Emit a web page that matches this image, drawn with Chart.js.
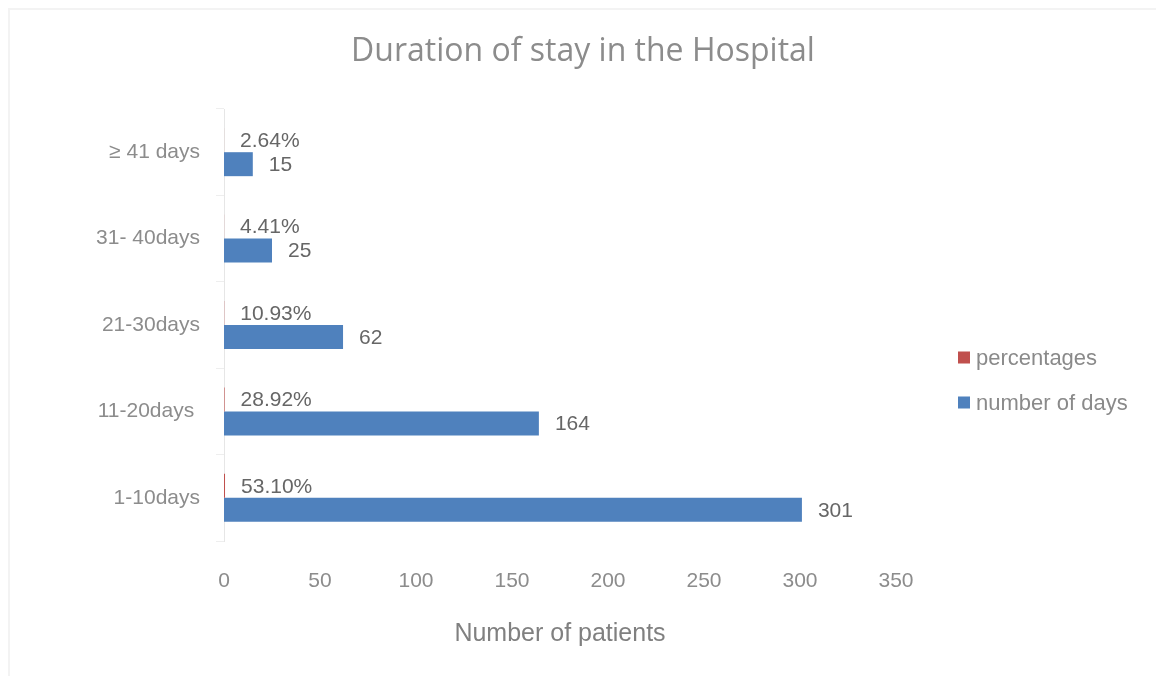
<!DOCTYPE html>
<html>
<head>
<meta charset="utf-8">
<script src="https://cdn.jsdelivr.net/npm/chart.js@4.4.1/dist/chart.umd.min.js"></script>
<style>
    html, body { margin: 0; padding: 0; background: #ffffff; overflow: hidden; }
    #frame {
        position: absolute; left: 8px; top: 8px; width: 1200px; height: 720px;
        border: 2px solid #f3f3f3; box-sizing: border-box;
    }
    #chart { position: absolute; left: 0; top: 0; }
</style>
</head>
<body>
<div id="frame"></div>
<canvas id="chart" width="1156" height="676"></canvas>
<script>
const categories = ['≥ 41 days', '31- 40days', '21-30days', '11-20days ', '1-10days'];
const percentages = [0.0264, 0.0441, 0.1093, 0.2892, 0.5310];
const numberOfDays = [15, 25, 62, 164, 301];
const xTicks = [0, 50, 100, 150, 200, 250, 300, 350];

const sans = "'Liberation Sans', Arial, sans-serif";

// labels next to the bar ends, like the excel data labels
const barLabels = {
    id: 'barLabels',
    afterDatasetsDraw(chart) {
        const ctx = chart.ctx;
        ctx.save();
        ctx.font = '21px ' + sans;
        ctx.fillStyle = '#666666';
        ctx.textAlign = 'left';
        ctx.textBaseline = 'middle';
        chart.data.datasets.forEach((ds, i) => {
            const meta = chart.getDatasetMeta(i);
            meta.data.forEach((bar, j) => {
                const v = ds.data[j];
                const txt = ds.isPercent ? (v * 100).toFixed(2) + '%' : String(v);
                ctx.fillText(txt, bar.x + 16, bar.y + 1);
            });
        });
        ctx.restore();
    }
};

// legend on the right side
const sideLegend = {
    id: 'sideLegend',
    afterDraw(chart) {
        const ctx = chart.ctx;
        ctx.save();
        ctx.font = '22px ' + sans;
        ctx.textBaseline = 'middle';
        chart.data.datasets.forEach((ds, i) => {
            const y = 357.5 + i * 45;
            ctx.fillStyle = ds.backgroundColor;
            ctx.fillRect(958, y - 6, 12, 12);
            ctx.fillStyle = '#8a8a8a';
            ctx.fillText(ds.label, 976, y + 1);
        });
        ctx.restore();
    }
};

const ctx = document.getElementById('chart').getContext('2d');
new Chart(ctx, {
    type: 'bar',
    data: {
        labels: categories,
        datasets: [
            {
                label: 'percentages',
                data: percentages,
                isPercent: true,
                backgroundColor: '#C0504D',
                barPercentage: 1,
                categoryPercentage: 0.555
            },
            {
                label: 'number of days',
                data: numberOfDays,
                backgroundColor: '#4F81BD',
                barPercentage: 1,
                categoryPercentage: 0.555
            }
        ]
    },
    options: {
        indexAxis: 'y',
        responsive: false,
        animation: false,
        devicePixelRatio: 1,
        layout: { padding: { left: 10, top: 0, right: 0, bottom: 27 } },
        plugins: {
            legend: { display: false },
            tooltip: { enabled: false },
            title: {
                display: true,
                text: 'Duration of stay in the Hospital',
                color: '#8c8c8c',
                font: { family: "'Open Sans', sans-serif", size: 32, weight: 'normal' },
                padding: { top: 33, bottom: 37.6 }
            }
        },
        scales: {
            x: {
                min: 0,
                max: 350,
                afterBuildTicks(scale) {
                    scale.ticks = xTicks.map(v => ({ value: v }));
                },
                afterFit(scale) {
                    scale.paddingRight = 260;
                    scale.height = 108;
                },
                grid: { display: false, drawTicks: false },
                border: { display: false },
                ticks: { color: '#8c8c8c', padding: 28, font: { family: sans, size: 21 } },
                title: {
                    display: true,
                    text: 'Number of patients',
                    color: '#808080',
                    font: { family: sans, size: 25 },
                    padding: { top: 10, bottom: 0 }
                }
            },
            y: {
                afterFit(scale) {
                    scale.width = 214;
                },
                grid: { drawOnChartArea: false, offset: true, tickLength: 8, color: '#eeeeee' },
                border: { display: true, color: '#e6e6e6' },
                ticks: { color: '#8c8c8c', padding: 16, font: { family: sans, size: 21 } }
            }
        }
    },
    plugins: [barLabels, sideLegend]
});
</script>
</body>
</html>
